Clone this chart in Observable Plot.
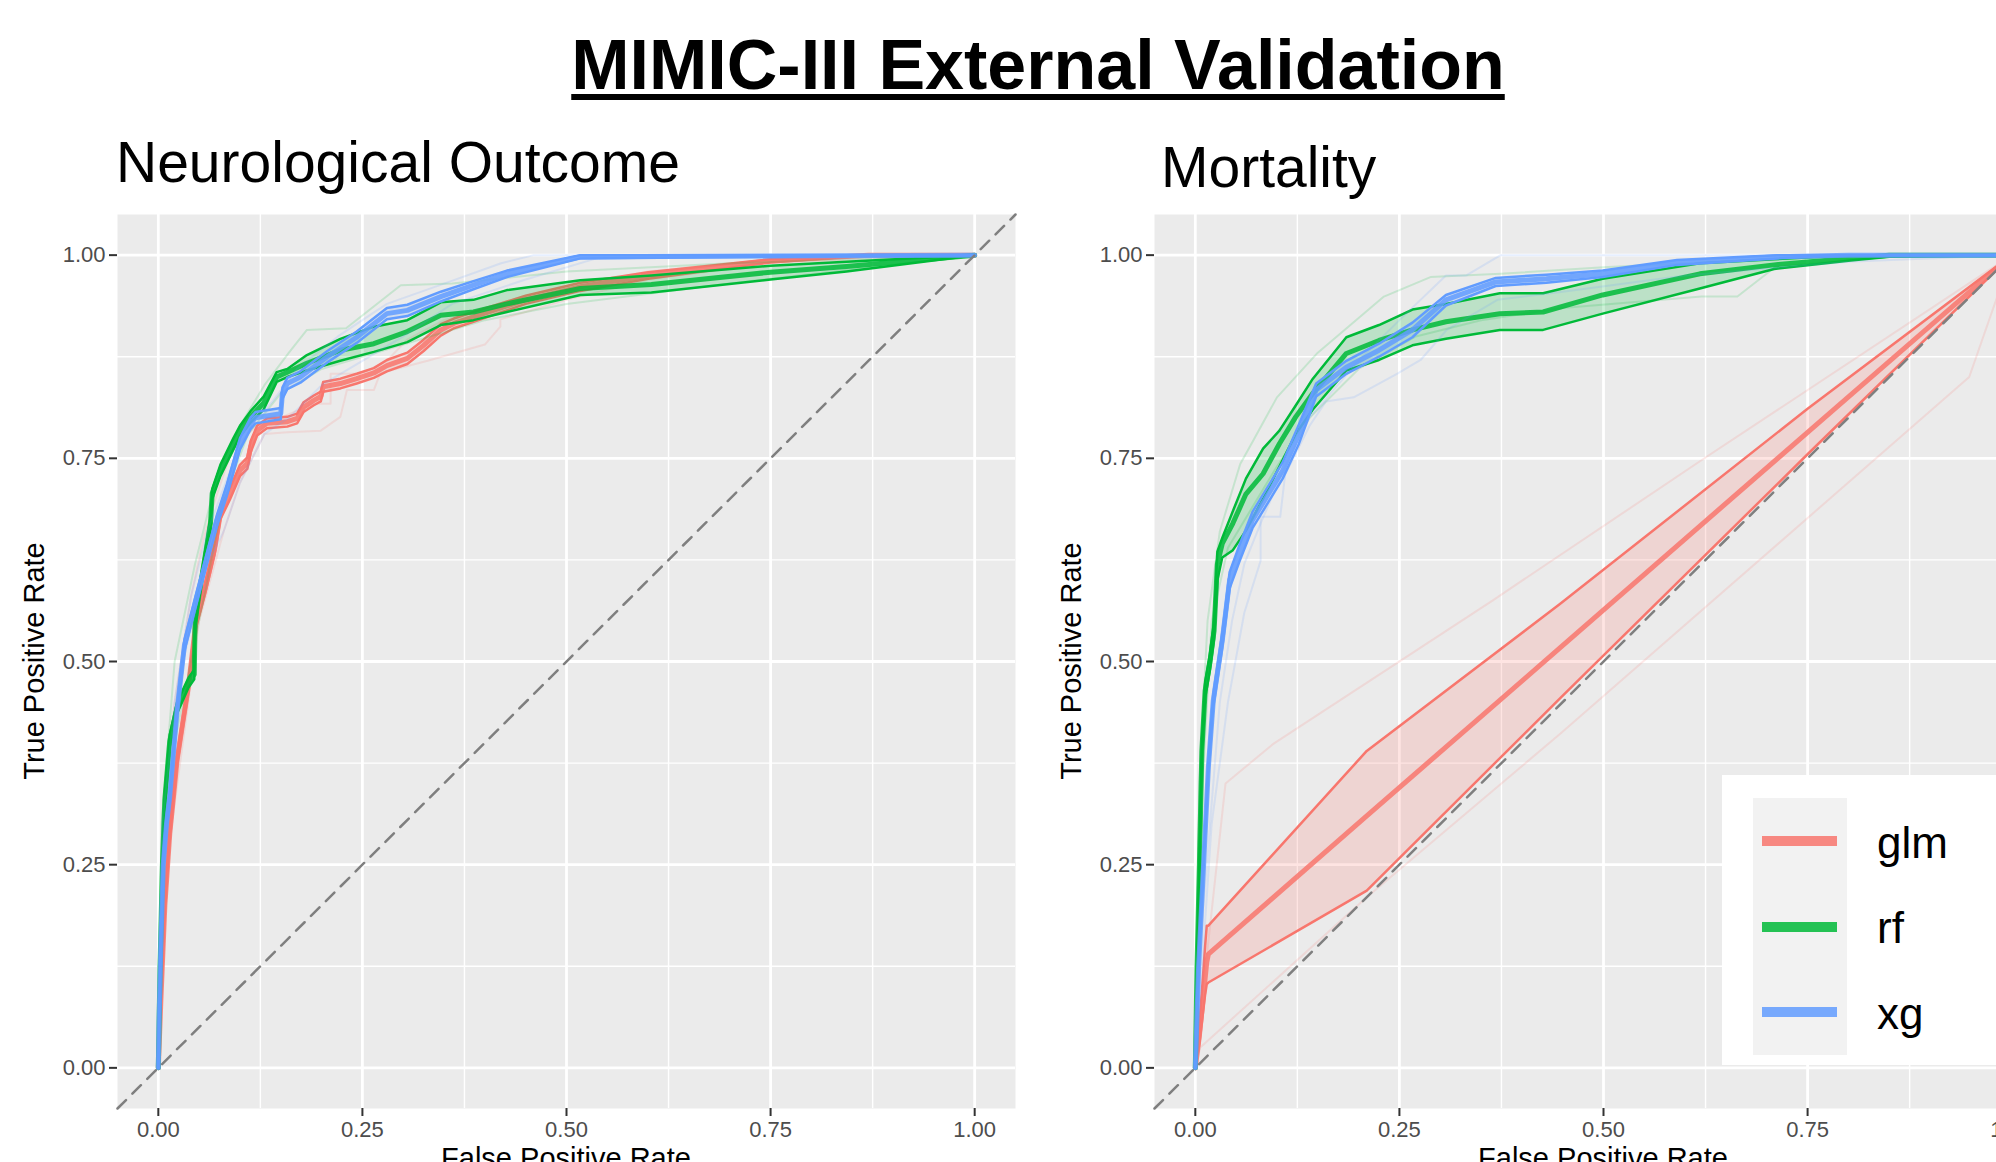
<!DOCTYPE html>
<html><head><meta charset="utf-8">
<script src="https://cdn.jsdelivr.net/npm/d3@7"></script>
<script src="https://cdn.jsdelivr.net/npm/@observablehq/plot@0.6"></script>
<style>
html,body{margin:0;padding:0;background:#fff;}
#root{position:relative;width:1996px;height:1162px;overflow:hidden;background:#fff;font-family:"Liberation Sans",Arial,Helvetica,sans-serif;color:#000;}
.abs{position:absolute;white-space:nowrap;line-height:1;}
</style></head><body><div id="root"></div>
<script>
// ---------- categories, colours, ticks ----------
const models = ["glm", "rf", "xg"];
const colors = ["#F8766D", "#00BA38", "#619CFF"];
const ticks = [0, 0.25, 0.5, 0.75, 1];
const tickLabels = ["0.00", "0.25", "0.50", "0.75", "1.00"];
const minorTicks = [0.125, 0.375, 0.625, 0.875];
const diagonal = [-0.05, 1.05];
const panelTitles = ["Neurological Outcome", "Mortality"];
const mainTitle = "MIMIC-III External Validation";
const xTitle = "False Positive Rate";
const yTitle = "True Positive Rate";

// ---------- Neurological Outcome ----------
const neuroGlmFpr  = [0,0.003,0.008,0.014,0.023,0.030,0.037,0.046,0.057,0.069,0.076,0.088,0.100,0.109,0.113,0.121,0.133,0.158,0.170,0.178,0.190,0.199,0.202,0.223,0.243,0.264,0.280,0.305,0.325,0.346,0.362,0.386,0.450,0.517,0.600,0.750,0.870,1];
const neuroGlmMean = [0,0.08,0.2,0.288,0.379,0.425,0.47,0.548,0.589,0.639,0.682,0.707,0.735,0.744,0.764,0.784,0.793,0.795,0.799,0.813,0.821,0.826,0.838,0.842,0.848,0.855,0.864,0.873,0.889,0.908,0.916,0.924,0.945,0.961,0.975,0.993,1,1];
const neuroGlmHi   = [0,0.09,0.21,0.296,0.386,0.432,0.477,0.555,0.596,0.646,0.689,0.714,0.742,0.751,0.771,0.790,0.799,0.801,0.805,0.819,0.827,0.832,0.844,0.848,0.854,0.861,0.871,0.880,0.896,0.915,0.922,0.930,0.950,0.966,0.979,0.995,1,1];
const neuroGlmLo   = [0,0.07,0.19,0.280,0.372,0.418,0.463,0.541,0.582,0.632,0.675,0.700,0.728,0.737,0.757,0.778,0.787,0.789,0.793,0.807,0.815,0.820,0.832,0.836,0.842,0.849,0.857,0.866,0.882,0.901,0.910,0.918,0.940,0.956,0.971,0.991,1,1];

const neuroRfFpr  = [0,0.002,0.005,0.008,0.014,0.023,0.037,0.044,0.045,0.050,0.064,0.066,0.076,0.092,0.100,0.113,0.129,0.145,0.158,0.182,0.223,0.264,0.305,0.346,0.386,0.427,0.517,0.604,0.750,0.843,1];
const neuroRfMean = [0,0.12,0.25,0.33,0.402,0.443,0.475,0.484,0.548,0.584,0.671,0.707,0.735,0.768,0.784,0.801,0.818,0.850,0.856,0.867,0.883,0.891,0.906,0.926,0.930,0.940,0.959,0.964,0.979,0.986,1];
const neuroRfHi   = [0,0.13,0.26,0.34,0.41,0.45,0.48,0.49,0.555,0.59,0.678,0.712,0.742,0.775,0.79,0.808,0.826,0.856,0.860,0.877,0.897,0.912,0.920,0.942,0.945,0.957,0.969,0.975,0.987,0.992,1];
const neuroRfLo   = [0,0.11,0.24,0.32,0.395,0.436,0.468,0.478,0.54,0.577,0.664,0.70,0.728,0.761,0.777,0.794,0.81,0.844,0.85,0.858,0.870,0.881,0.893,0.914,0.920,0.930,0.951,0.954,0.970,0.980,1];

const neuroXgFpr  = [0,0.001,0.003,0.006,0.010,0.014,0.023,0.032,0.046,0.064,0.072,0.084,0.100,0.113,0.119,0.150,0.152,0.158,0.174,0.207,0.243,0.280,0.305,0.346,0.386,0.427,0.517,1];
const neuroXgMean = [0,0.06,0.15,0.25,0.30,0.334,0.44,0.52,0.575,0.644,0.674,0.711,0.768,0.793,0.80,0.805,0.83,0.842,0.85,0.875,0.899,0.928,0.932,0.949,0.963,0.977,0.998,1];
const neuroXgHi   = [0,0.07,0.16,0.26,0.31,0.342,0.448,0.527,0.582,0.651,0.681,0.718,0.775,0.80,0.807,0.812,0.837,0.849,0.857,0.882,0.906,0.935,0.939,0.955,0.968,0.981,1,1];
const neuroXgLo   = [0,0.05,0.14,0.24,0.29,0.326,0.432,0.513,0.568,0.637,0.667,0.704,0.761,0.786,0.793,0.798,0.823,0.835,0.843,0.868,0.892,0.921,0.925,0.943,0.958,0.973,0.996,1];

const neuroGlmFold1 = [[0,0],[0.01,0.25],[0.03,0.40],[0.05,0.55],[0.08,0.66],[0.1,0.72],[0.12,0.76],[0.13,0.78],[0.158,0.782],[0.199,0.784],[0.223,0.801],[0.231,0.834],[0.264,0.834],[0.272,0.855],[0.33,0.87],[0.40,0.89],[0.419,0.912],[0.419,0.921],[0.5,0.945],[0.6,0.97],[0.75,0.99],[1,1]];
const neuroGlmFold2 = [[0,0],[0.006,0.3],[0.02,0.45],[0.04,0.58],[0.055,0.65],[0.07,0.70],[0.09,0.76],[0.12,0.79],[0.15,0.80],[0.19,0.817],[0.211,0.817],[0.211,0.854],[0.248,0.854],[0.28,0.87],[0.305,0.896],[0.35,0.92],[0.45,0.95],[0.6,0.98],[0.8,1],[1,1]];
const neuroRfFold1 = [[0,0],[0.004,0.3],[0.02,0.5],[0.045,0.62],[0.07,0.72],[0.1,0.79],[0.13,0.84],[0.16,0.88],[0.182,0.908],[0.23,0.91],[0.297,0.963],[0.36,0.965],[0.5,0.98],[0.7,0.99],[1,1]];
const neuroRfFold2 = [[0,0],[0.01,0.35],[0.03,0.45],[0.05,0.55],[0.08,0.70],[0.11,0.78],[0.15,0.83],[0.2,0.86],[0.3,0.89],[0.4,0.92],[0.5,0.94],[0.7,0.965],[1,1]];
const neuroXgFold1 = [[0,0],[0.005,0.3],[0.02,0.45],[0.04,0.58],[0.06,0.66],[0.09,0.74],[0.12,0.8],[0.14,0.82],[0.17,0.86],[0.22,0.9],[0.28,0.94],[0.35,0.965],[0.42,0.99],[0.46,1],[1,1]];
const neuroXgFold2 = [[0,0],[0.01,0.3],[0.03,0.5],[0.06,0.62],[0.08,0.66],[0.1,0.72],[0.13,0.78],[0.16,0.8],[0.2,0.84],[0.25,0.87],[0.3,0.9],[0.36,0.94],[0.45,0.97],[0.55,1],[1,1]];

// ---------- Mortality ----------
const mortGlmFpr  = [0,0.005,0.012,0.014,0.016,0.21,0.447,0.75,1];
const mortGlmMean = [0,0.04,0.11,0.13,0.14,0.31,0.517,0.782,1];
const mortGlmHi   = [0,0.05,0.15,0.175,0.175,0.39,0.571,0.811,1];
const mortGlmLo   = [0,0.03,0.09,0.103,0.105,0.218,0.455,0.755,1];

const mortRfFpr  = [0,0.002,0.005,0.008,0.012,0.018,0.023,0.027,0.033,0.046,0.062,0.083,0.103,0.123,0.144,0.185,0.225,0.266,0.307,0.373,0.426,0.499,0.618,0.709,0.800,0.850,1];
const mortRfMean = [0,0.12,0.25,0.39,0.464,0.50,0.538,0.620,0.645,0.670,0.706,0.731,0.768,0.801,0.830,0.879,0.895,0.908,0.918,0.928,0.930,0.951,0.977,0.988,0.996,1,1];
const mortRfHi   = [0,0.13,0.26,0.40,0.475,0.51,0.55,0.635,0.652,0.685,0.725,0.762,0.784,0.815,0.848,0.899,0.914,0.933,0.940,0.953,0.953,0.971,0.990,0.995,1,1,1];
const mortRfLo   = [0,0.11,0.24,0.38,0.455,0.49,0.528,0.60,0.628,0.637,0.661,0.70,0.74,0.78,0.81,0.858,0.871,0.889,0.897,0.908,0.908,0.928,0.959,0.983,0.993,0.998,1];

const mortXgFpr  = [0,0.004,0.010,0.016,0.022,0.033,0.039,0.042,0.054,0.070,0.087,0.107,0.127,0.148,0.185,0.225,0.266,0.307,0.368,0.430,0.499,0.590,0.713,0.800,1];
const mortXgMean = [0,0.124,0.247,0.370,0.452,0.526,0.575,0.600,0.633,0.674,0.702,0.735,0.780,0.834,0.862,0.883,0.908,0.945,0.967,0.971,0.977,0.991,0.998,1,1];
const mortXgHi   = [0,0.13,0.255,0.38,0.46,0.535,0.585,0.61,0.643,0.684,0.712,0.745,0.792,0.842,0.870,0.891,0.917,0.951,0.972,0.976,0.981,0.994,1,1,1];
const mortXgLo   = [0,0.118,0.24,0.36,0.444,0.517,0.565,0.59,0.623,0.664,0.692,0.725,0.768,0.826,0.854,0.875,0.899,0.938,0.962,0.966,0.973,0.988,0.996,1,1];

const mortGlmFold1 = [[0,0],[0.01,0.1],[0.037,0.35],[0.096,0.399],[0.364,0.575],[0.625,0.751],[1,1]];
const mortGlmFold2 = [[0,0],[0.006,0.025],[0.21,0.21],[0.447,0.411],[0.948,0.85],[1,1]];
const mortRfFold1 = [[0,0],[0.005,0.35],[0.015,0.55],[0.03,0.66],[0.055,0.743],[0.071,0.772],[0.1,0.825],[0.15,0.88],[0.231,0.949],[0.288,0.973],[0.374,0.977],[0.5,0.985],[0.7,0.995],[0.85,1],[1,1]];
const mortRfFold2 = [[0,0],[0.006,0.3],[0.02,0.55],[0.04,0.64],[0.07,0.69],[0.1,0.74],[0.14,0.8],[0.2,0.86],[0.27,0.9],[0.35,0.92],[0.45,0.935],[0.62,0.949],[0.664,0.949],[0.71,0.985],[0.85,1],[1,1]];
const mortXgFold1 = [[0,0],[0.01,0.2],[0.03,0.45],[0.045,0.55],[0.06,0.62],[0.08,0.67],[0.11,0.74],[0.14,0.8],[0.2,0.87],[0.25,0.92],[0.307,0.975],[0.332,0.975],[0.374,1],[1,1]];
const mortXgFold2 = [[0,0],[0.02,0.3],[0.04,0.45],[0.06,0.56],[0.08,0.624],[0.08,0.678],[0.104,0.678],[0.11,0.73],[0.14,0.79],[0.16,0.82],[0.194,0.825],[0.247,0.854],[0.276,0.871],[0.308,0.908],[0.37,0.945],[0.45,0.955],[0.6,0.975],[0.8,0.992],[1,1]];

// ---------- build ----------
function rows(fpr, mean, lo, hi) {
  return fpr.map((f, i) => ({fpr: f, mean: mean[i], lo: lo[i], hi: hi[i]}));
}
const neuroSeries = [
  {model: "glm", data: rows(neuroGlmFpr, neuroGlmMean, neuroGlmLo, neuroGlmHi), folds: [neuroGlmFold1, neuroGlmFold2]},
  {model: "rf",  data: rows(neuroRfFpr, neuroRfMean, neuroRfLo, neuroRfHi),     folds: [neuroRfFold1, neuroRfFold2]},
  {model: "xg",  data: rows(neuroXgFpr, neuroXgMean, neuroXgLo, neuroXgHi),     folds: [neuroXgFold1, neuroXgFold2]}
];
const mortSeries = [
  {model: "glm", data: rows(mortGlmFpr, mortGlmMean, mortGlmLo, mortGlmHi), folds: [mortGlmFold1, mortGlmFold2]},
  {model: "rf",  data: rows(mortRfFpr, mortRfMean, mortRfLo, mortRfHi),     folds: [mortRfFold1, mortRfFold2]},
  {model: "xg",  data: rows(mortXgFpr, mortXgMean, mortXgLo, mortXgHi),     folds: [mortXgFold1, mortXgFold2]}
];

const fmt = d => tickLabels[ticks.indexOf(d)];

function panelPlot(series) {
  const marks = [
    Plot.frame({fill: "#EBEBEB", stroke: "none"}),
    Plot.gridX(minorTicks, {stroke: "#FFFFFF", strokeOpacity: 1, strokeWidth: 1.4}),
    Plot.gridY(minorTicks, {stroke: "#FFFFFF", strokeOpacity: 1, strokeWidth: 1.4}),
    Plot.gridX(ticks, {stroke: "#FFFFFF", strokeOpacity: 1, strokeWidth: 2.8}),
    Plot.gridY(ticks, {stroke: "#FFFFFF", strokeOpacity: 1, strokeWidth: 2.8}),
    Plot.axisX(ticks, {tickFormat: fmt, tickSize: 8, tickPadding: 5, fontSize: 22, fill: "#4D4D4D", stroke: "#333333", strokeWidth: 2, label: null}),
    Plot.axisY(ticks, {tickFormat: fmt, tickSize: 8, tickPadding: 4, fontSize: 22, fill: "#4D4D4D", stroke: "#333333", strokeWidth: 2, label: null})
  ];
  series.forEach(s => {
    const c = colors[models.indexOf(s.model)];
    s.folds.forEach(f => marks.push(Plot.line(f, {x: d => d[0], y: d => d[1], stroke: c, strokeOpacity: 0.16, strokeWidth: 2})));
    marks.push(Plot.areaY(s.data, {x: "fpr", y1: "lo", y2: "hi", fill: c, fillOpacity: 0.2}));
    marks.push(Plot.line(s.data, {x: "fpr", y: "lo", stroke: c, strokeWidth: 2.5}));
    marks.push(Plot.line(s.data, {x: "fpr", y: "hi", stroke: c, strokeWidth: 2.5}));
    marks.push(Plot.line(s.data, {x: "fpr", y: "mean", stroke: c, strokeWidth: 5, strokeOpacity: 0.85}));
  });
  marks.push(Plot.line(diagonal, {x: d => d, y: d => d, stroke: "#7F7F7F", strokeWidth: 2.5, strokeDasharray: "12,9"}));
  return Plot.plot({
    width: 1040, height: 982,
    marginLeft: 117, marginRight: 25, marginTop: 34, marginBottom: 54,
    x: {domain: [-0.05, 1.05], label: null},
    y: {domain: [-0.05, 1.05], label: null},
    style: {fontFamily: "'Liberation Sans', Arial, sans-serif", background: "transparent", maxWidth: "none", overflow: "visible"},
    marks
  });
}

const root = document.getElementById("root");
function addDiv(txt, style) {
  const d = document.createElement("div");
  d.className = "abs";
  if (txt != null) d.textContent = txt;
  Object.assign(d.style, style);
  root.appendChild(d);
  return d;
}

// plots
const leftWrap = addDiv(null, {left: "0px", top: "180px", width: "1040px", height: "982px"});
leftWrap.appendChild(panelPlot(neuroSeries));
const rightWrap = addDiv(null, {left: "1037px", top: "180px", width: "1040px", height: "982px"});
rightWrap.appendChild(panelPlot(mortSeries));

// title
addDiv(mainTitle, {left: "1038px", top: "30px", transform: "translateX(-50%)", fontSize: "70px", fontWeight: "bold",
  textDecoration: "underline", textDecorationThickness: "6px", textUnderlineOffset: "5px"});
// panel titles
addDiv(panelTitles[0], {left: "116px", top: "134px", fontSize: "57px"});
addDiv(panelTitles[1], {left: "1161px", top: "139px", fontSize: "57px"});
// axis titles
[0, 1037].forEach(off => {
  addDiv(yTitle, {left: (34 + off) + "px", top: "661px", fontSize: "29px", transform: "translate(-50%,-50%) rotate(-90deg)"});
  addDiv(xTitle, {left: (566 + off) + "px", top: "1144px", fontSize: "29px", transform: "translateX(-50%)"});
});

// legend
addDiv(null, {left: "1722px", top: "775px", width: "300px", height: "290px", background: "#FFFFFF"});
addDiv(null, {left: "1753px", top: "798px", width: "94px", height: "257px", background: "#F2F2F2"});
models.forEach((m, i) => {
  const cy = 841 + i * 85.5;
  addDiv(null, {left: "1762px", top: (cy - 5) + "px", width: "75px", height: "10px", background: colors[i], opacity: "0.85"});
  addDiv(m, {left: "1877px", top: (cy + 17 - 0.8465 * 44) + "px", fontSize: "44px"});
});
</script>
</body></html>
